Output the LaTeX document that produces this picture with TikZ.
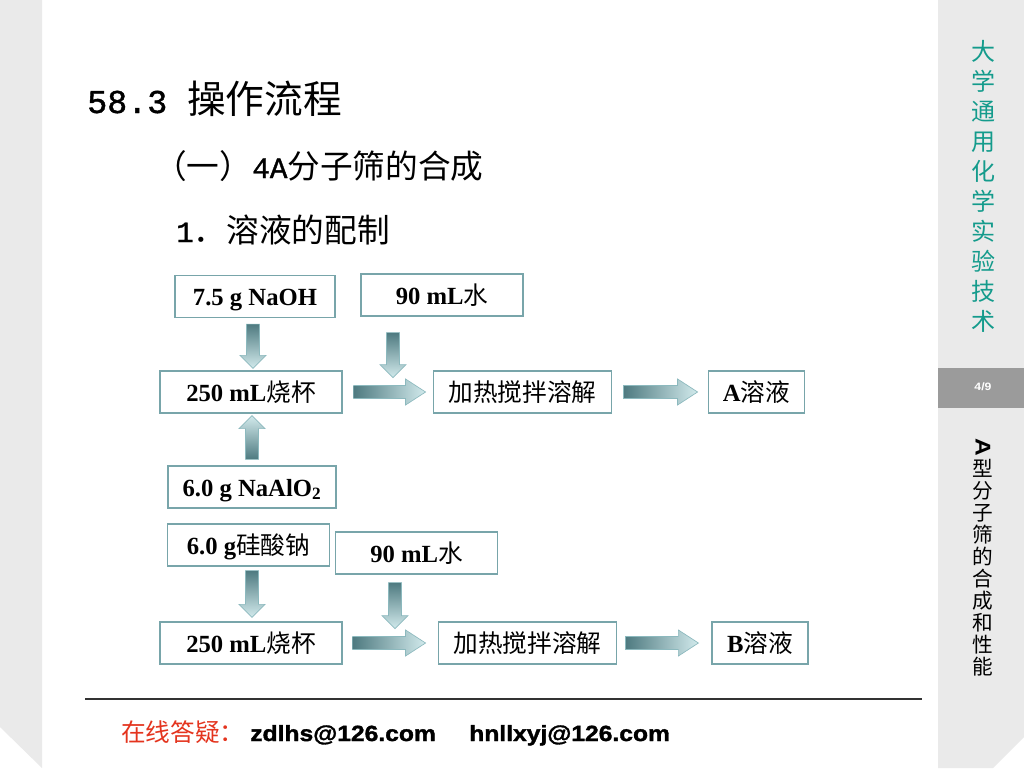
\documentclass[tikz,border=0pt]{standalone}
\usepackage{fontspec}
\setmainfont{Liberation Serif}
\newfontfamily\cjk{Noto Sans CJK SC}
\newfontfamily\tnr{Liberation Serif}
\newfontfamily\monof{Liberation Mono}[FakeBold=1.2]
\newfontfamily\emailf{Liberation Sans}[FakeStretch=1.15]
\newfontfamily\emailbf{Liberation Sans Bold}[FakeStretch=1.12, FakeBold=1.6]
\usetikzlibrary{calc}
\definecolor{sidegray}{RGB}{234,234,234}
\definecolor{bandgray}{RGB}{155,155,155}
\definecolor{teal1}{RGB}{20,155,140}
\definecolor{boxc}{RGB}{120,165,170}
\definecolor{adark}{RGB}{78,122,128}
\definecolor{alight}{RGB}{210,234,236}
\definecolor{aborder}{RGB}{140,185,190}
\definecolor{redt}{RGB}{228,52,30}
\tikzset{
  flowbox/.style={draw=boxc, line width=0.9pt, fill=white, inner sep=0pt,
    minimum height=31.5pt, text height=16pt, text depth=2pt,
    font=\fontsize{18.5}{20}\selectfont},
  blockarrow/.style={draw=aborder, line width=0.5pt},
}
\newcommand\lat[1]{{\tnr\bfseries #1}}
\newcommand\zh[1]{{\cjk #1}}
\newcommand\adown[2]{%
  \shade[blockarrow, top color=adark, bottom color=alight]
  ($(#1)+(-6.5,0)$) -- ($(#1)+(6.5,0)$) -- ($(#2)+(6.5,-13)$) -- ($(#2)+(13,-13)$)
  -- (#2) -- ($(#2)+(-13,-13)$) -- ($(#2)+(-6.5,-13)$) -- cycle;}
\newcommand\aup[2]{%
  \shade[blockarrow, bottom color=adark, top color=alight]
  ($(#1)+(-6.5,0)$) -- ($(#1)+(6.5,0)$) -- ($(#2)+(6.5,13)$) -- ($(#2)+(13,13)$)
  -- (#2) -- ($(#2)+(-13,13)$) -- ($(#2)+(-6.5,13)$) -- cycle;}
\newcommand\aright[2]{%
  \shade[blockarrow, left color=adark, right color=alight]
  ($(#1)+(0,-6.5)$) -- ($(#2)+(-20,-6.5)$) -- ($(#2)+(-20,-13)$) -- (#2)
  -- ($(#2)+(-20,13)$) -- ($(#2)+(-20,6.5)$) -- ($(#1)+(0,6.5)$) -- cycle;}
\begin{document}
\begin{tikzpicture}[x=0.75pt,y=-0.75pt]
\useasboundingbox (0,0) rectangle (1024,768);
\fill[white] (0,0) rectangle (1024,768);
% left strip
\fill[sidegray] (0,0) -- (42,0) -- (42,768) -- (0,727) -- cycle;
% right sidebar
\fill[sidegray] (938,0) -- (1024,0) -- (1024,737) -- (993,768) -- (938,768) -- cycle;
\fill[bandgray] (938,368) rectangle (1024,408);
\node[text=white, font=\emailf\bfseries\fontsize{8}{9}\selectfont] (pg) at (983,387) {4/9};
\node[text=teal1, align=center, inner sep=0pt, font=\cjk\fontsize{18}{22.5}\selectfont] (side1) at (983,186)
  {大\\学\\通\\用\\化\\学\\实\\验\\技\\术};
\node[text=black, align=center, inner sep=0pt, font=\cjk\fontsize{15.5}{16.5}\selectfont] (side2) at (983,557)
  {\rotatebox[origin=c]{-90}{\emailf\bfseries\fontsize{16}{16}\selectfont A}\\型\\分\\子\\筛\\的\\合\\成\\和\\性\\能};
% titles
\node[anchor=base west, inner sep=0pt] (title) at (87,113)
  {{\monof\fontsize{25}{28}\selectfont 58.3 }{\cjk\fontsize{29}{32}\selectfont 操作流程}};
\node[anchor=base west, inner sep=0pt] (sub1) at (154,178)
  {\cjk\fontsize{24.5}{28}\selectfont （一）{\monof\fontsize{22}{26}\selectfont 4A}分子筛的合成};
\node[anchor=base west, inner sep=0pt] (sub2) at (176,242)
  {{\monof\fontsize{22}{26}\selectfont 1}{\cjk\fontsize{24.5}{28}\selectfont ．溶液的配制}};
% boxes
\node[flowbox, minimum width=120pt] (naoh) at (255,296.5) {\lat{7.5 g NaOH}};
\node[flowbox, minimum width=121.5pt] (w1) at (442,295) {\lat{90 mL}\zh{水}};
\node[flowbox, minimum width=136.5pt] (b1) at (251,392) {\lat{250 mL}\zh{烧杯}};
\node[flowbox, minimum width=134pt] (h1) at (522.5,392) {\zh{加热搅拌溶解}};
\node[flowbox, minimum width=72.5pt] (A) at (756.5,392) {\lat{A}\zh{溶液}};
\node[flowbox, minimum width=126pt] (alo) at (252,487) {\lat{6.0 g NaAlO\textsubscript{2}}};
\node[flowbox, minimum width=121pt] (si) at (248.5,545) {\lat{6.0 g}\zh{硅酸钠}};
\node[flowbox, minimum width=121pt] (w2) at (416.5,553) {\lat{90 mL}\zh{水}};
\node[flowbox, minimum width=136.5pt] (b2) at (251,643) {\lat{250 mL}\zh{烧杯}};
\node[flowbox, minimum width=134pt] (h2) at (527.5,643) {\zh{加热搅拌溶解}};
\node[flowbox, minimum width=72pt] (B) at (760,643) {\lat{B}\zh{溶液}};
% arrow end points
\coordinate (a1t) at ($(naoh.south)+(-2,6)$);
\coordinate (a1h) at ($(a1t |- b1.north)+(0,-2)$);
\coordinate (a2t) at ($(w1.south)+(-49,16)$);
\coordinate (a2h) at ($(a2t)+(0,45)$);
\coordinate (a3t) at ($(b1.east)+(11,0)$);
\coordinate (a3h) at ($(h1.west)+(-7,0)$);
\coordinate (a4t) at ($(h1.east)+(11,0)$);
\coordinate (a4h) at ($(A.west)+(-10,0)$);
\coordinate (a5t) at ($(alo.north)+(0,-6)$);
\coordinate (a5h) at ($(a5t |- b1.south)+(0,2)$);
\coordinate (a6t) at ($(si.south)+(3.5,4)$);
\coordinate (a6h) at ($(a6t |- b2.north)+(0,-4)$);
\coordinate (a7t) at ($(w2.south)+(-21.5,8)$);
\coordinate (a7h) at ($(a7t)+(0,46)$);
\coordinate (a8t) at ($(b2.east)+(10,0)$);
\coordinate (a8h) at ($(h2.west)+(-12,0)$);
\coordinate (a9t) at ($(h2.east)+(8,0)$);
\coordinate (a9h) at ($(B.west)+(-13,0)$);
\adown{a1t}{a1h}
\aright{a3t}{a3h}
\adown{a2t}{a2h}
\aright{a4t}{a4h}
\aup{a5t}{a5h}
\adown{a6t}{a6h}
\aright{a8t}{a8h}
\adown{a7t}{a7h}
\aright{a9t}{a9h}
% footer
\coordinate (fl) at (85,699);
\coordinate (fr) at (922,699);
\draw[line width=1.1pt, black!80] (fl) -- (fr);
\node[anchor=base west, inner sep=0pt, text=redt, font=\cjk\fontsize{18.5}{20}\selectfont] (ask) at (121,741) {在线答疑：};
\node[anchor=base west, inner sep=0pt, font=\emailbf\fontsize{16.5}{18}\selectfont] (m1) at (250,741) {zdlhs@126.com};
\node[anchor=base west, inner sep=0pt, font=\emailbf\fontsize{16.5}{18}\selectfont] (m2) at (469,741) {hnllxyj@126.com};
\end{tikzpicture}
\end{document}
